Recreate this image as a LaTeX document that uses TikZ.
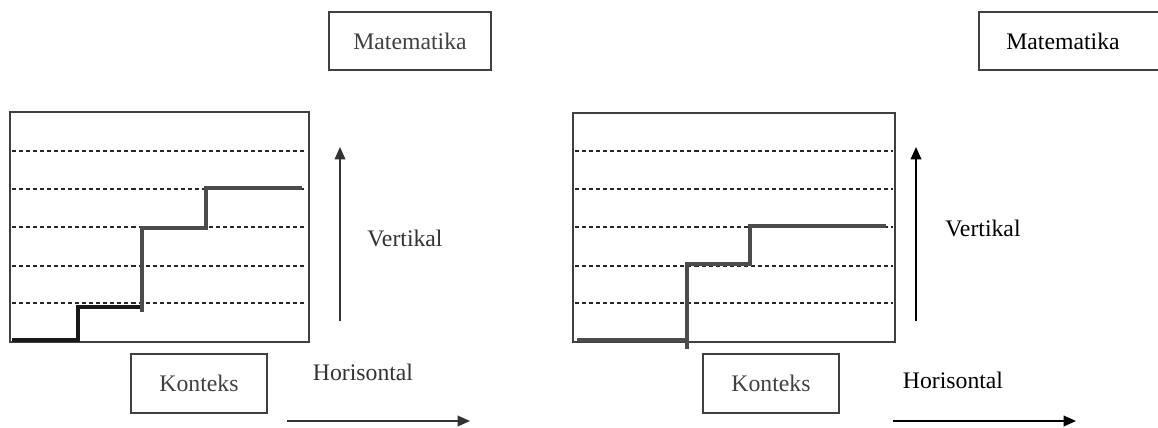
\documentclass[tikz,border=0pt]{standalone}
\usepackage{fontspec}
\setmainfont{Liberation Serif}
\usetikzlibrary{arrows.meta}

\begin{document}
\begin{tikzpicture}[
    x=0.02cm, y=-0.02cm,
    font=\fontsize{13.5}{16}\selectfont,
    % styles
    label/.style={draw=black!75, line width=0.8pt, text=black!75, inner sep=0pt},
    frame/.style={draw=black!75, line width=0.9pt},
    level/.style={draw=black!85, line width=1pt, dash pattern=on 2.3pt off 1.7pt},
    stair/.style={draw=black!70, line width=2.7pt},
    axis/.style={draw=black!80, line width=1pt, -{Triangle[length=7pt, width=6pt]}},
    word/.style={text=black!80, inner sep=0pt},
]
\useasboundingbox (0,0) rectangle (1158,427);

% =========================================================
% Left panel
% =========================================================
\begin{scope}[shift={(0,0)}]
% frame and levels
\draw[frame] (10,112) rectangle (309,342);
\foreach \y in {151,189,227,266,303}
    \draw[level] (12,\y) -- (305,\y);

% staircase
\draw[stair, draw=black!90] (12,340) -- (78,340) -- (78,307) -- (140,307);
\draw[stair] (142,312) -- (142,228) -- (206,228) -- (206,188) -- (302,188);

% labels
\node[label, minimum width=3.24cm, minimum height=1.16cm] (matL) at (410,41) {Matematika};
\node[label, minimum width=2.72cm, minimum height=1.18cm] (konL) at (199,383.5) {Konteks};
\node[word] (verL) at (405,238) {Vertikal};
\node[word] (horL) at (363,372) {Horisontal};

% axes
\coordinate (vLa) at (340,321);
\coordinate (vLb) at (340,147);
\coordinate (hLa) at (287,421);
\coordinate (hLb) at (470,421);
\draw[axis] (vLa) -- (vLb);
\draw[axis] (hLa) -- (hLb);
\end{scope}

% =========================================================
% Right panel
% =========================================================
\begin{scope}[shift={(0,0)}]
% frame and levels
\draw[frame] (573,113) rectangle (895,342);
\foreach \y in {151,189,227,266,303}
    \draw[level] (575,\y) -- (893,\y);

% staircase
\draw[stair] (577,340) -- (687,340) -- (687,349);
\draw[stair] (687,349) -- (687,264) -- (750,264) -- (750,226) -- (886,226);

% labels
\node[label, minimum width=3.64cm, minimum height=1.16cm] (matR) at (1070,41) {};
\node[word, text=black] (matRt) at (1063,41) {Matematika};
\node[label, minimum width=2.72cm, minimum height=1.18cm] (konR) at (771,383.5) {Konteks};
\node[word, text=black] (verR) at (983,228) {Vertikal};
\node[word, text=black] (horR) at (953,380) {Horisontal};

% axes
\coordinate (vRa) at (916,321);
\coordinate (vRb) at (916,147);
\coordinate (hRa) at (893,421);
\coordinate (hRb) at (1076,421);
\draw[axis, draw=black] (vRa) -- (vRb);
\draw[axis, draw=black] (hRa) -- (hRb);
\end{scope}

\end{tikzpicture}
\end{document}
